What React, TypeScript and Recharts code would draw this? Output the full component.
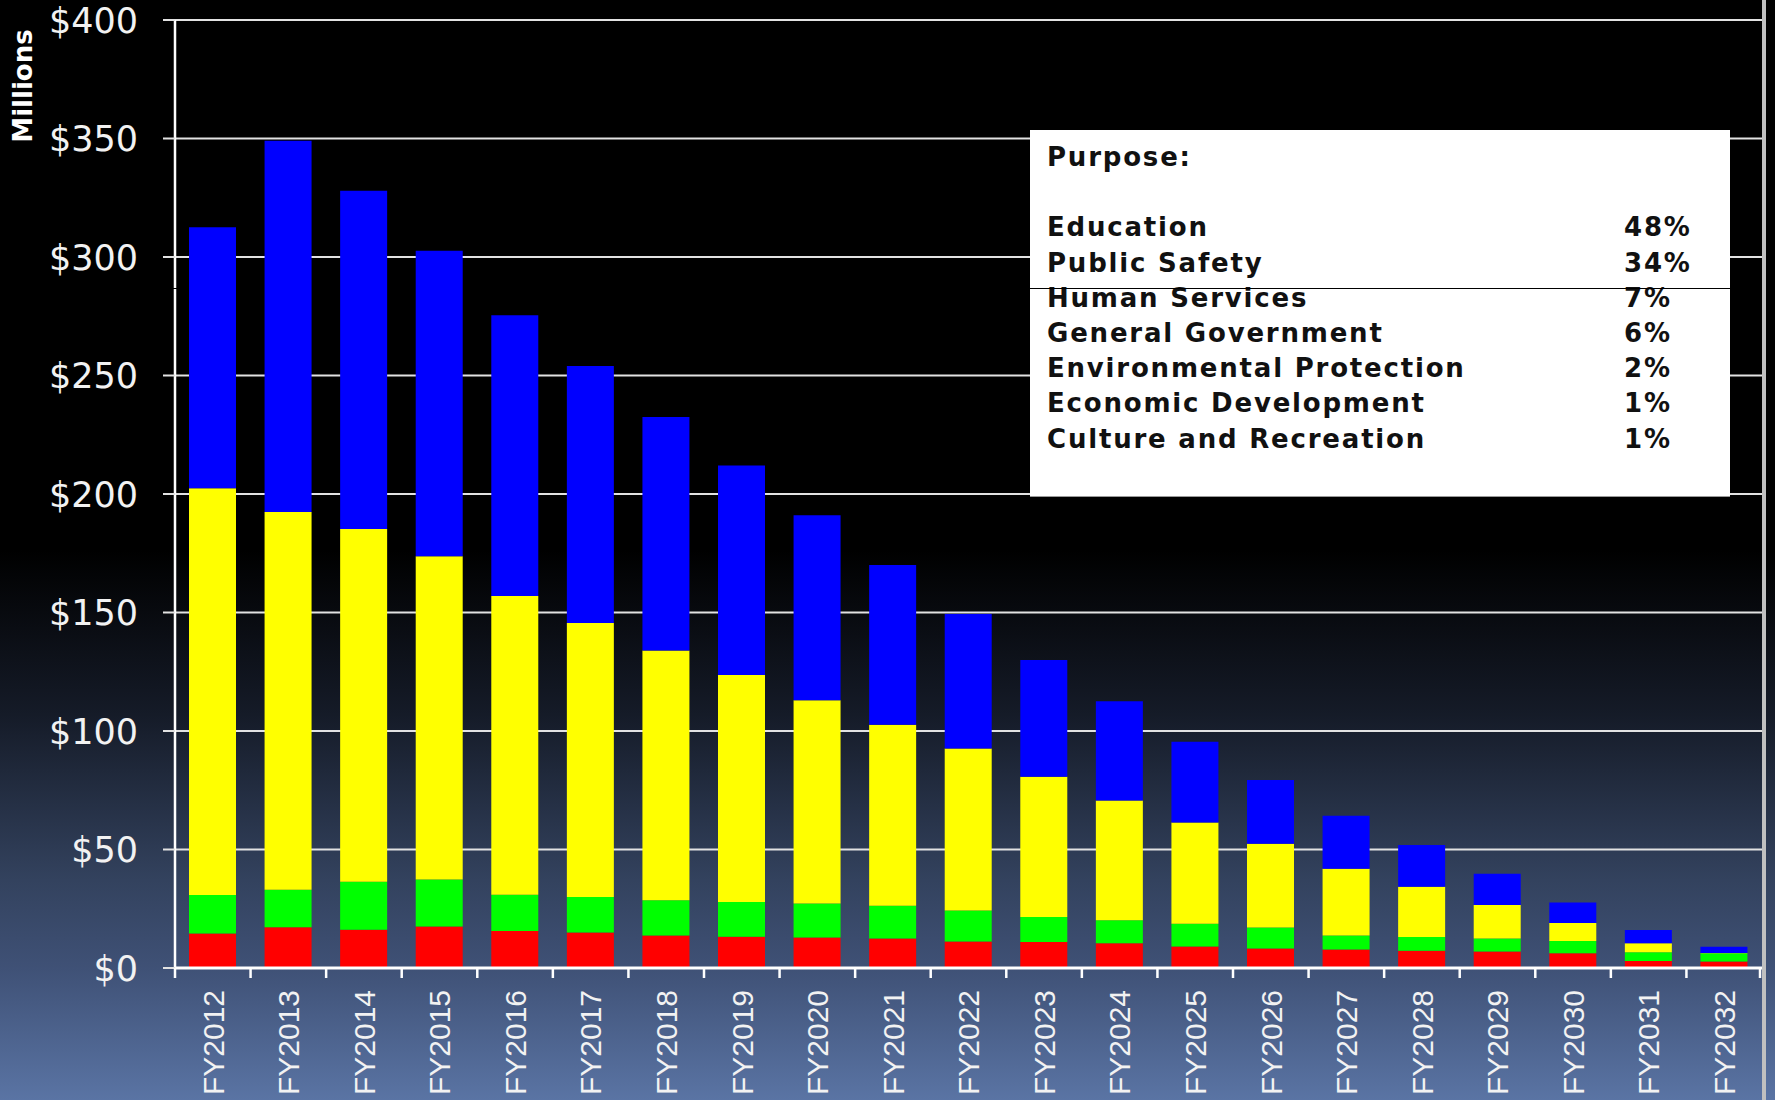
import React from "react";
import { BarChart, Bar, XAxis, YAxis, CartesianGrid } from "recharts";

const years = [
  "FY2012", "FY2013", "FY2014", "FY2015", "FY2016", "FY2017", "FY2018",
  "FY2019", "FY2020", "FY2021", "FY2022", "FY2023", "FY2024", "FY2025",
  "FY2026", "FY2027", "FY2028", "FY2029", "FY2030", "FY2031", "FY2032",
];

// $ millions per segment, bottom to top
const redSeg = [14.6, 17.2, 16.1, 17.5, 15.6, 15.0, 13.7, 13.2, 12.9, 12.4, 11.2, 11.0, 10.4, 9.1, 8.2, 7.8, 7.3, 7.0, 6.2, 3.0, 2.7];
const greenSeg = [16.2, 15.8, 20.3, 19.8, 15.3, 15.0, 14.9, 14.7, 14.3, 13.9, 13.1, 10.5, 9.8, 9.6, 8.9, 5.9, 5.8, 5.5, 5.2, 3.6, 3.5];
const yellowSeg = [171.6, 159.4, 148.8, 136.4, 126.1, 115.6, 105.4, 95.7, 85.8, 76.3, 68.3, 59.2, 50.5, 42.7, 35.3, 28.2, 21.2, 14.1, 7.6, 3.8, 0.1];
const blueSeg = [110.2, 156.6, 142.8, 128.9, 118.4, 108.4, 98.5, 88.4, 78.0, 67.4, 56.8, 49.3, 41.9, 34.1, 26.9, 22.3, 17.6, 13.2, 8.6, 5.6, 2.7];

const yTicks = [0, 50, 100, 150, 200, 250, 300, 350, 400];

const purposes = [
  "Education",
  "Public Safety",
  "Human Services",
  "General Government",
  "Environmental Protection",
  "Economic Development",
  "Culture and Recreation",
];
const purposeShares = ["48%", "34%", "7%", "6%", "2%", "1%", "1%"];

const W = 1775;
const H = 1100;
const PLOT_LEFT = 175;
const PLOT_RIGHT = 1762;
const PLOT_BOTTOM = 968;
const BAND = (PLOT_RIGHT - PLOT_LEFT) / years.length;

const data = years.map((year, i) => ({
  year,
  red: redSeg[i],
  green: greenSeg[i],
  yellow: yellowSeg[i],
  blue: blueSeg[i],
}));

const YTick = (props: any) => {
  const { x, y, payload } = props;
  return (
    <text
      x={x}
      y={y}
      dy="0.36em"
      textAnchor="end"
      fill="#f2f2f2"
      fontFamily="DejaVu Sans"
      fontSize={35}
    >
      ${payload.value}
    </text>
  );
};

const XTick = (props: any) => {
  const { x, index, payload } = props;
  const left = x - BAND / 2;
  const last = index === years.length - 1;
  return (
    <g>
      <line x1={left} x2={left} y1={PLOT_BOTTOM} y2={PLOT_BOTTOM + 10} stroke="#fff" strokeWidth={2.5} />
      {last && (
        <line x1={x + BAND / 2 - 2} x2={x + BAND / 2 - 2} y1={PLOT_BOTTOM} y2={PLOT_BOTTOM + 10} stroke="#fff" strokeWidth={2.5} />
      )}
      <text
        transform={`translate(${x}, ${PLOT_BOTTOM + 22}) rotate(-90)`}
        textAnchor="end"
        dy="0.36em"
        fill="#f2f2f2"
        fontFamily="Liberation Sans"
        fontSize={30}
      >
        {payload.value}
      </text>
    </g>
  );
};

export default function App() {
  return (
    <div
      style={{
        position: "absolute",
        top: 0,
        left: 0,
        width: W,
        height: H,
        overflow: "hidden",
        background:
          "linear-gradient(to bottom, #000 0%, #000 50%, #151b28 65%, #33425e 80%, #3f5176 88%, #5a74a4 100%)",
      }}
    >
      <BarChart
        width={W}
        height={H}
        data={data}
        margin={{ top: 20, right: W - PLOT_RIGHT, bottom: 12, left: 0 }}
        barSize={47}
      >
        <CartesianGrid vertical={false} stroke="#e2e2e2" strokeWidth={2} />
        <XAxis
          dataKey="year"
          height={120}
          interval={0}
          tickLine={false}
          axisLine={{ stroke: "#fff", strokeWidth: 3 }}
          tick={<XTick />}
        />
        <YAxis
          type="number"
          domain={[0, 400]}
          ticks={yTicks}
          width={PLOT_LEFT}
          tickSize={12}
          tickMargin={25}
          axisLine={{ stroke: "#fff", strokeWidth: 2.5 }}
          tickLine={{ stroke: "#e2e2e2", strokeWidth: 2 }}
          tick={<YTick />}
        />
        <Bar dataKey="red" stackId="a" fill="#ff0000" isAnimationActive={false} />
        <Bar dataKey="green" stackId="a" fill="#00ff00" isAnimationActive={false} />
        <Bar dataKey="yellow" stackId="a" fill="#ffff00" isAnimationActive={false} />
        <Bar dataKey="blue" stackId="a" fill="#0000ff" isAnimationActive={false} />
      </BarChart>

      {/* y-axis unit label */}
      <div
        style={{
          position: "absolute",
          left: 23,
          top: 86,
          transform: "translate(-50%, -50%) rotate(-90deg)",
          color: "#fff",
          fontFamily: "DejaVu Sans",
          fontWeight: "bold",
          fontSize: 26,
          whiteSpace: "nowrap",
        }}
      >
        Millions
      </div>

      {/* purpose box */}
      <div
        style={{
          position: "absolute",
          left: 1030,
          top: 130,
          width: 700,
          height: 367,
          boxSizing: "border-box",
          background: "#fff",
          borderBottom: "1px solid #9a9a9a",
          padding: "10px 0 0 17px",
          fontFamily: "DejaVu Sans",
          fontWeight: "bold",
          fontSize: 26,
          letterSpacing: 1.8,
          lineHeight: "35.2px",
          color: "#111",
        }}
      >
        <div>Purpose:</div>
        <div>&nbsp;</div>
        {purposes.map((p, i) => (
          <div key={p} style={{ display: "flex", whiteSpace: "nowrap" }}>
            <span style={{ width: 577 }}>{p}</span>
            <span>{purposeShares[i]}</span>
          </div>
        ))}
        {/* stray black rule across the box */}
        <div style={{ position: "absolute", left: 0, top: 158, width: "100%", height: 1, background: "#000" }} />
      </div>

      {/* the same rule where it crosses the y axis */}
      <div style={{ position: "absolute", left: PLOT_LEFT - 2, top: 288, width: 5, height: 1, background: "#000" }} />

      {/* right frame line */}
      <div style={{ position: "absolute", left: 1762, top: 0, width: 4, height: H, background: "#c0c0c0" }} />
    </div>
  );
}
